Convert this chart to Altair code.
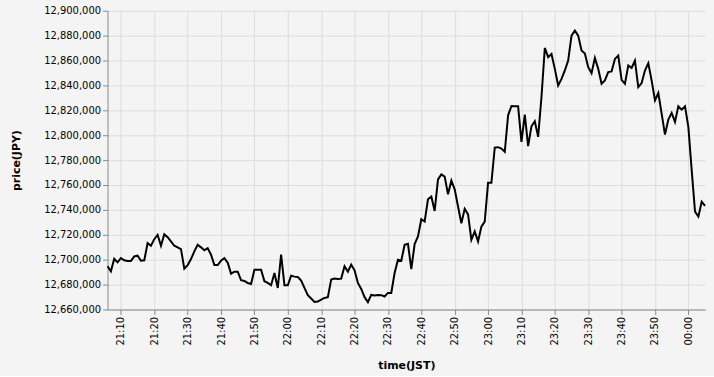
import altair as alt
import pandas as pd

start_time = "2024-01-01T21:06:00"
prices = [
    12694700, 12690700, 12700800, 12697900, 12701300, 12699500, 12699000, 12699000, 12702700, 12703200,
    12699200, 12699500, 12713300, 12711200, 12716500, 12720000, 12711200, 12720500, 12718100, 12714700,
    12711200, 12709900, 12708500, 12692800, 12695700, 12700500, 12706700, 12712000, 12709900, 12707500,
    12709300, 12704000, 12695700, 12695700, 12699200, 12701300, 12697600, 12688800, 12690400, 12690400,
    12683500, 12682900, 12681300, 12680500, 12692000, 12692000, 12692000, 12682700, 12681300, 12679500,
    12689300, 12677300, 12704000, 12679500, 12679500, 12687200, 12686400, 12686100, 12683200, 12677300,
    12671500, 12668800, 12666100, 12666400, 12668000, 12669300, 12669900, 12684000, 12684800, 12684500,
    12684800, 12694700, 12690300, 12696000, 12691500, 12681300, 12676500, 12669900, 12665900, 12671700,
    12671200, 12671700, 12671500, 12670400, 12673300, 12673300, 12689300, 12700000, 12699200, 12712000,
    12712800, 12692500, 12712500, 12718700, 12732500, 12730700, 12748500, 12750700, 12739200, 12764500,
    12768500, 12766700, 12752500, 12763500, 12756500, 12742700, 12729300, 12740900, 12736400, 12716000,
    12722700, 12714600, 12726600, 12730600, 12761800, 12761800, 12790100, 12790400, 12789300, 12786700,
    12816000, 12823500, 12823200, 12823200, 12794700, 12816500, 12791200, 12807200, 12811200, 12798700,
    12830700, 12870100, 12862700, 12865300, 12853300, 12840000, 12845300, 12852000, 12860000, 12880000,
    12884000, 12880000, 12868000, 12865700, 12854700, 12849900, 12862100, 12853300, 12841300, 12844000,
    12850700, 12851200, 12861300, 12864000, 12844500, 12841300, 12856000, 12854100, 12860000, 12838700,
    12841900, 12852000, 12857900, 12844000, 12828000, 12833900, 12817300, 12800500, 12812500, 12817900,
    12810700, 12823200, 12820500, 12823200, 12806700, 12772000, 12738600, 12734600, 12746600, 12743200,
]
y_ticks = [12660000 + 20000 * i for i in range(13)]
y_domain = [12660000, 12900000]
x_tick_times = ["21:10", "21:20", "21:30", "21:40", "21:50", "22:00", "22:10", "22:20",
                "22:30", "22:40", "22:50", "23:00", "23:10", "23:20", "23:30", "23:40",
                "23:50", "00:00"]

times = pd.date_range(start=start_time, periods=len(prices), freq="1min")
df = pd.DataFrame({"time": times.strftime("%Y-%m-%dT%H:%M:%S"), "price": prices})


def to_dt(hm):
    h, m = (int(s) for s in hm.split(":"))
    day = 2 if h < 12 else 1
    return alt.DateTime(year=2024, month=1, date=day, hours=h, minutes=m)


x_values = [to_dt(t) for t in x_tick_times]

chart = alt.Chart(df).mark_line(color="#000000", strokeWidth=2).encode(
    x=alt.X(
        "time:T",
        title="time(JST)",
        scale=alt.Scale(nice=False),
        axis=alt.Axis(format="%H:%M", labelAngle=270, values=x_values, titlePadding=14),
    ),
    y=alt.Y(
        "price:Q",
        title="price(JPY)",
        scale=alt.Scale(domain=y_domain, nice=False, zero=False),
        axis=alt.Axis(values=y_ticks, format=",d", titlePadding=22),
    ),
).properties(
    width=600, height=300, background="#f4f4f4",
    padding={"left": 10, "top": 5, "right": 5, "bottom": 5},
).configure(
    font="DejaVu Sans"
).configure_view(stroke=None)

chart.save("out.html", embed_options={"renderer": "svg", "actions": False})
